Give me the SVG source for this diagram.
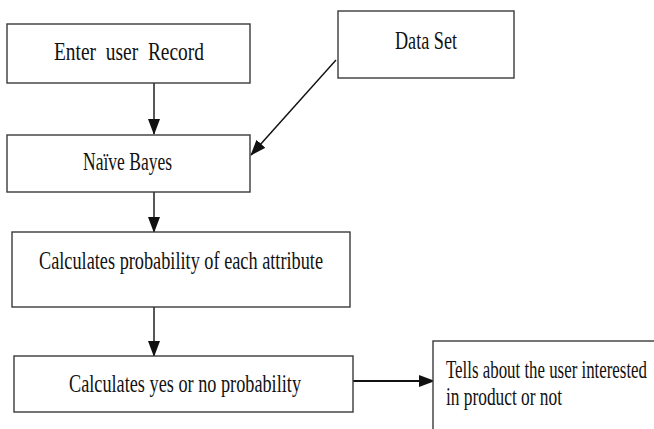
<svg xmlns="http://www.w3.org/2000/svg" width="654" height="429" viewBox="0 0 654 429">
  <style>
    .box { fill: #fff; stroke: #3a3a3a; stroke-width: 1.4; }
    .lbl { font-family: "Liberation Serif", "Times New Roman", serif; font-size: 26px; fill: #111; }
    .edge { fill: none; stroke: #111; stroke-width: 1.4; }
    .thick { stroke-width: 2.2; }
  </style>
  <defs>
    <marker id="arrow" markerUnits="userSpaceOnUse" markerWidth="16" markerHeight="12" refX="15" refY="6" orient="auto">
      <path d="M0,0 L16,6 L0,12 z" fill="#111"/>
    </marker>
  </defs>
  <rect width="654" height="429" fill="#fff"/>

  <g id="connectors">
    <line class="edge" x1="154" y1="83" x2="154" y2="134" marker-end="url(#arrow)"/>
    <line class="edge" x1="336" y1="60" x2="251" y2="155" marker-end="url(#arrow)"/>
    <line class="edge" x1="154" y1="192" x2="154" y2="232" marker-end="url(#arrow)"/>
    <line class="edge" x1="154" y1="307" x2="154" y2="356" marker-end="url(#arrow)"/>
    <line class="edge thick" x1="351" y1="381" x2="434" y2="381" marker-end="url(#arrow)"/>
  </g>

  <g id="enter-record">
    <rect class="box" x="7" y="24" width="243" height="59"/>
    <text class="lbl" x="54" y="60" textLength="150" lengthAdjust="spacingAndGlyphs" xml:space="preserve">Enter  user  Record</text>
  </g>

  <g id="data-set">
    <rect class="box" x="338" y="11" width="176" height="67"/>
    <text class="lbl" x="395" y="49" textLength="62" lengthAdjust="spacingAndGlyphs">Data Set</text>
  </g>

  <g id="naive-bayes">
    <rect class="box" x="7" y="135" width="243" height="57"/>
    <text class="lbl" x="83" y="170" textLength="89" lengthAdjust="spacingAndGlyphs">Naïve Bayes</text>
  </g>

  <g id="attr-probability">
    <rect class="box" x="12" y="232" width="338" height="75"/>
    <text class="lbl" x="39" y="269" textLength="284" lengthAdjust="spacingAndGlyphs">Calculates probability of each attribute</text>
  </g>

  <g id="yes-no-probability">
    <rect class="box" x="14" y="356" width="339" height="56"/>
    <text class="lbl" x="69" y="392" textLength="232" lengthAdjust="spacingAndGlyphs">Calculates yes or no probability</text>
  </g>

  <g id="result">
    <rect class="box" x="433" y="341" width="240" height="110"/>
    <text class="lbl" x="446" y="378" textLength="201" lengthAdjust="spacingAndGlyphs">Tells about the user interested</text>
    <text class="lbl" x="446" y="405" textLength="116" lengthAdjust="spacingAndGlyphs">in product or not</text>
  </g>
</svg>
